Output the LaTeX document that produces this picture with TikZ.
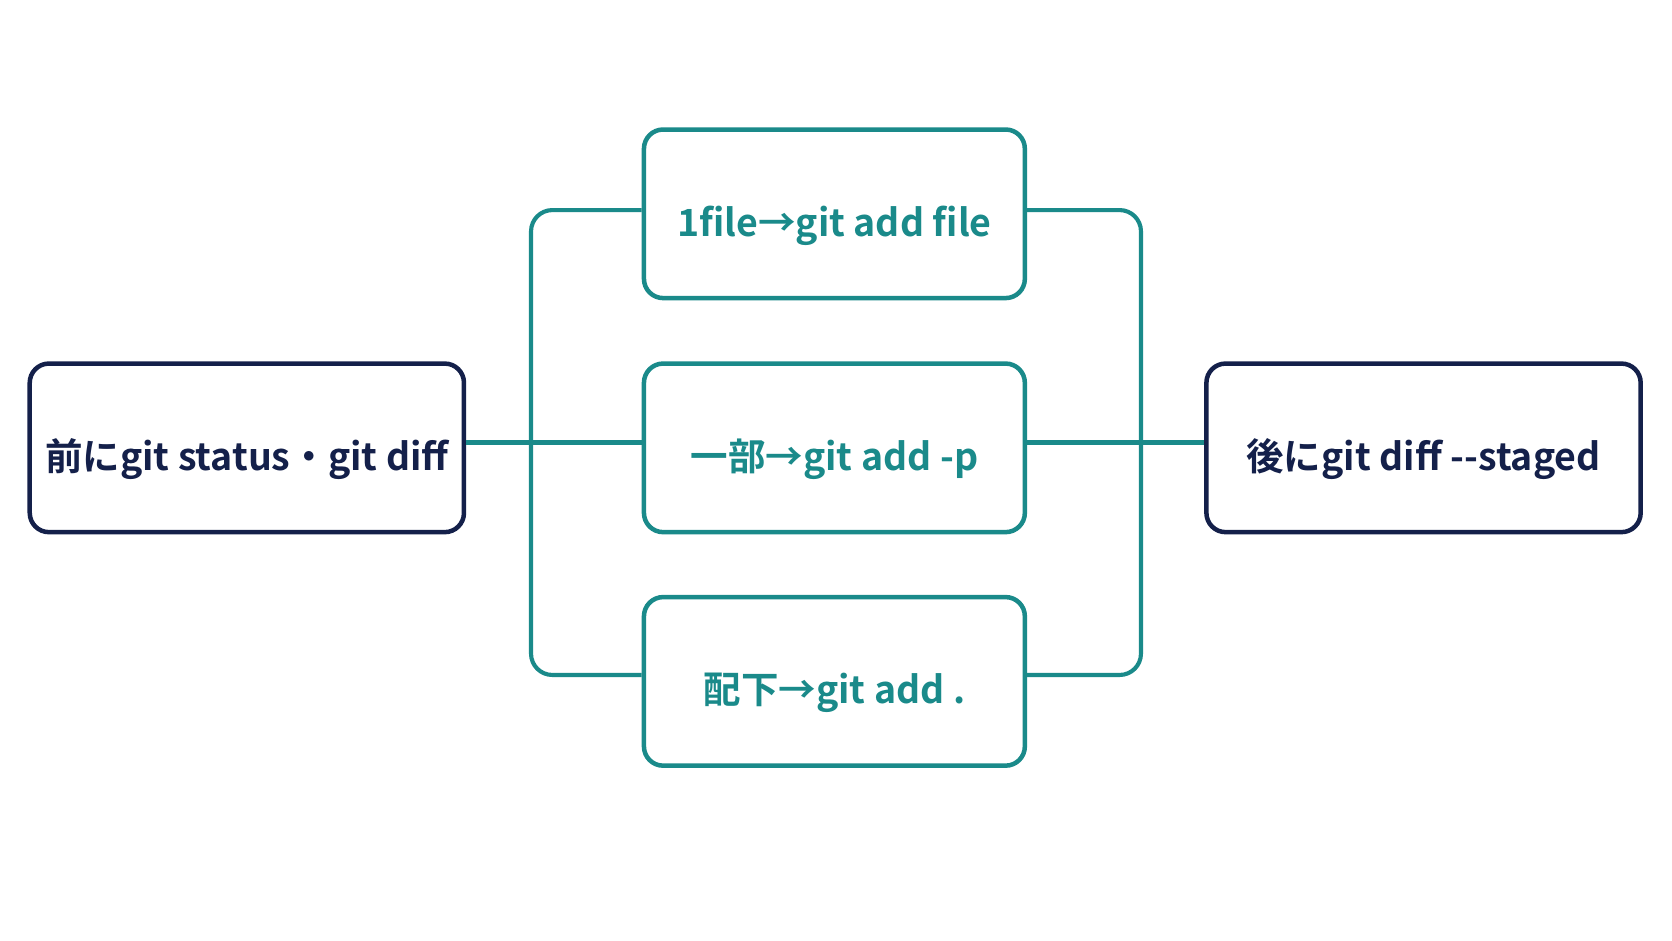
\documentclass[tikz,border=0pt]{standalone}
\usepackage{fontspec}
\setmainfont{Noto Sans CJK JP}[BoldFont={* Bold}]
\definecolor{navy}{HTML}{14204A}
\definecolor{teal}{HTML}{1A8A8A}
\newcommand{\lowr}[1]{\raisebox{-6pt}[0pt][0pt]{#1}}
\begin{document}
\begin{tikzpicture}[x=0.01cm,y=-0.01cm,
 box/.style={draw,line width=1.2pt,rounded corners=0.18cm,minimum width=4.07cm,minimum height=1.58cm,font=\fontsize{10}{12}\selectfont\bfseries,inner sep=0pt},
 nb/.style={box,draw=navy,text=navy},
 tb/.style={box,draw=teal,text=teal,minimum width=3.57cm},
 con/.style={draw=teal,line width=1.1pt,rounded corners=0.2cm}]
\fill[white] (0,0) rectangle (1568,882);
\node[nb] (L) at (231.5,420) {\lowr{前にgit status・git diff}};
\node[nb] (R) at (1335,420) {\lowr{後にgit diff -{}-staged}};
\node[tb] (T) at (782.5,200.5) {\lowr{1file→git add file}};
\node[tb] (M) at (782.5,420) {\lowr{一部→git add -p}};
\node[tb] (B) at (782.5,639) {\lowr{配下→git add .}};
\coordinate (lt) at (498,197); \coordinate (lb) at (498,633);
\coordinate (rt) at (1070,197); \coordinate (rb) at (1070,633);
\draw[con] (T.west |- 0,197) -- (lt) -- (lb) -- (B.west |- 0,633);
\draw[con] (T.east |- 0,197) -- (rt) -- (rb) -- (B.east |- 0,633);
\draw[con] (L.east |- 0,415) -- (M.west |- 0,415);
\draw[con] (M.east |- 0,415) -- (R.west |- 0,415);
\end{tikzpicture}
\end{document}
